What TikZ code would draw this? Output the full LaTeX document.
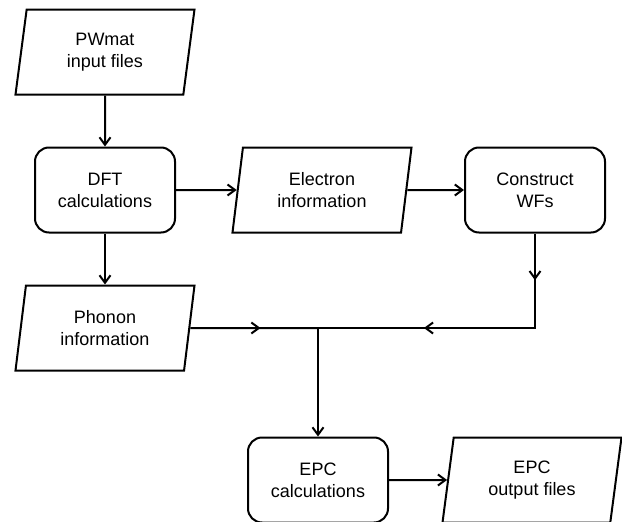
\documentclass[tikz,border=0pt]{standalone}
\usepackage{fontspec}
\setmainfont{Liberation Sans}
\usetikzlibrary{arrows.meta}
\usetikzlibrary{shapes.geometric}
\usetikzlibrary{decorations.markings}

\tikzset{
  boxtext/.style={align=center, font=\fontsize{18}{22}\selectfont},
  proc/.style={boxtext, draw, line width=2pt, rounded corners=14pt,
    minimum width=140pt, minimum height=85pt},
  data/.style={boxtext, draw, line width=2pt, trapezium,
    trapezium left angle=76, trapezium right angle=104,
    trapezium stretches body, minimum width=179pt, minimum height=85pt},
  tip/.tip={Straight Barb[length=7.5pt,width=11pt,line width=2pt]},
  flow/.style={line width=2pt, -tip},
  midtip/.style={decoration={markings, mark=at position #1 with {\arrow{tip}}},
    postaction={decorate}},
  twotips/.style 2 args={decoration={markings,
      mark=at position #1 with {\arrow{tip}},
      mark=at position #2 with {\arrow{tip}}},
    postaction={decorate}}
}

\begin{document}
\begin{tikzpicture}[x=1pt, y=-1pt]
    \useasboundingbox (0,0) rectangle (622,522);
    % boxes
    \node[data] (pw) at (105,52) {PWmat\\input files};
    \node[proc] (dft) at (105,190) {DFT\\calculations};
    \node[data] (el) at (322,190) {Electron\\information};
    \node[proc] (wf) at (535,190) {Construct\\WFs};
    \node[data] (ph) at (105,328) {Phonon\\information};
    \coordinate (join) at (318,328);
    \node[proc] (epc) at (318,480) {EPC\\calculations};
    \node[data] (out) at (532,480) {EPC\\output files};
    % arrows
    \draw[flow] (pw) -- (dft);
    \draw[flow] (dft) -- (el);
    \draw[flow] (el) -- (wf);
    \draw[flow] (dft) -- (ph);
    \draw[line width=2pt, midtip=0.55] (ph) -- (join);
    \draw[line width=2pt, twotips={0.15}{0.66}] (wf) |- (join);
    \draw[flow] (join) -- (epc);
    \draw[flow] (epc) -- (out);
\end{tikzpicture}
\end{document}
